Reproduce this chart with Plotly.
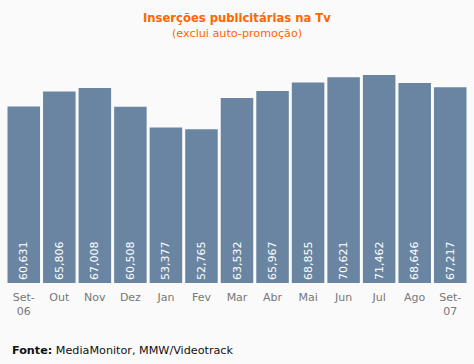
import plotly.graph_objects as go

months = ["Set-<br>06", "Out", "Nov", "Dez", "Jan", "Fev", "Mar", "Abr", "Mai", "Jun", "Jul", "Ago", "Set-<br>07"]
values = [60631, 65806, 67008, 60508, 53377, 52765, 63532, 65967, 68855, 70621, 71462, 68646, 67217]
labels = [f"{v:,}" for v in values]

title = "Inserções publicitárias na Tv"
subtitle = "(exclui auto-promoção)"
source_bold = "Fonte:"
source_text = " MediaMonitor, MMW/Videotrack"

BG = "#fafafa"
BAR = "#6a85a1"
ORANGE = "#ff6600"
FONT = "DejaVu Sans"

W, H = 474, 364
ML, MR, MT, MB = 6, 6, 62, 81

fig = go.Figure(go.Bar(
    x=list(range(len(months))),
    y=values,
    text=labels,
    textposition="inside",
    insidetextanchor="start",
    textangle=-90,
    textfont=dict(family=FONT, size=11, color="white"),
    marker=dict(color=BAR, line=dict(width=0)),
    hoverinfo="skip",
))

plot_h = H - MT - MB
plot_w = W - ML - MR
def py(ypix):
    return (H - MB - ypix) / plot_h
def px(xpix):
    return (xpix - ML) / plot_w

fig.update_layout(
    width=W, height=H,
    paper_bgcolor=BG, plot_bgcolor=BG,
    margin=dict(l=ML, r=MR, t=MT, b=MB),
    bargap=0.085,
    showlegend=False,
    font=dict(family=FONT, size=11, color="#777777"),
    xaxis=dict(
        tickmode="array", tickvals=list(range(len(months))), ticktext=months,
        showgrid=False, zeroline=False, showline=False, ticks="",
        ticklabelstandoff=6,
        tickfont=dict(family=FONT, size=11, color="#777777"),
        range=[-0.5, len(months) - 0.5],
    ),
    yaxis=dict(
        range=[0, 75900], showgrid=False, zeroline=False, showline=False,
        showticklabels=False, ticks="",
    ),
    annotations=[
        dict(text=f"<b>{title}</b>", x=px(237), xref="paper", y=py(18), yref="paper",
             showarrow=False, font=dict(family=FONT, size=11.6, color=ORANGE),
             xanchor="center", yanchor="middle"),
        dict(text=subtitle, x=px(237), xref="paper", y=py(33), yref="paper",
             showarrow=False, font=dict(family=FONT, size=11.2, color=ORANGE),
             xanchor="center", yanchor="middle"),
        dict(text=f"<b>{source_bold}</b>{source_text}", x=px(10), xref="paper", y=py(350),
             yref="paper", showarrow=False, font=dict(family=FONT, size=11.2, color="#111111"),
             xanchor="left", yanchor="middle"),
    ],
)

fig.write_html(
    "out.html",
    config={"displayModeBar": False, "staticPlot": True},
    post_script="document.body.style.margin='0';document.body.style.overflow='hidden';",
)
